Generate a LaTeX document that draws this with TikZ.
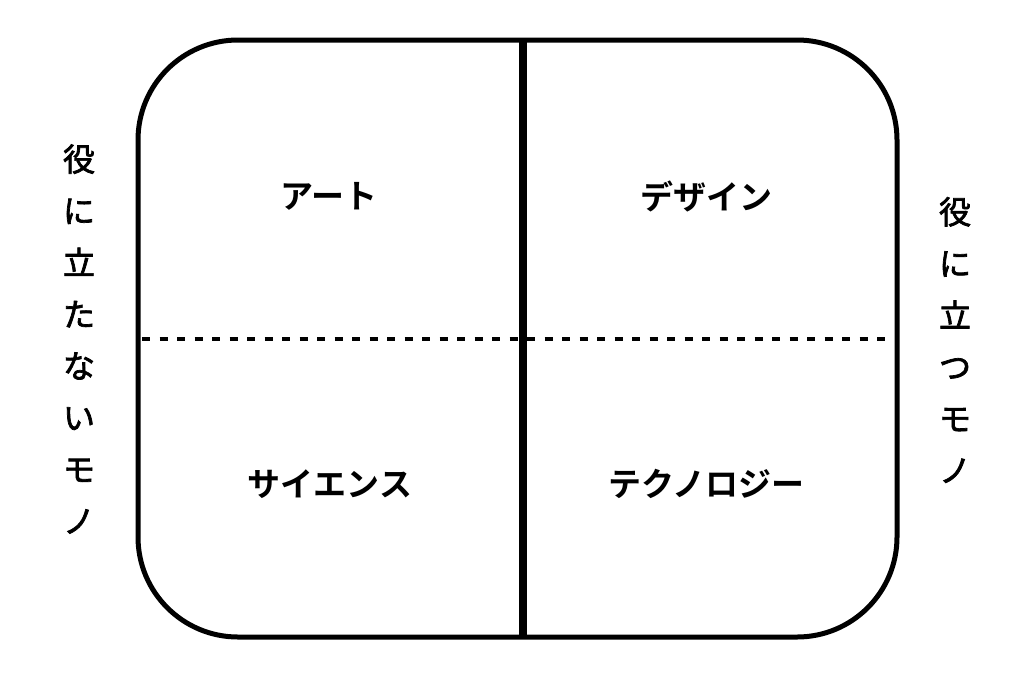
\documentclass[tikz,border=0pt]{standalone}
\usepackage{fontspec}
\newfontfamily\jp[FakeBold=2.2]{Noto Sans CJK JP}
\newfontfamily\jpb{Noto Sans CJK JP Bold}
\begin{document}
\begin{tikzpicture}[x=1pt,y=-1pt,
  quad/.style={font=\jpb\fontsize{33}{36}\selectfont, inner sep=0pt},
  side/.style={font=\jp\fontsize{32}{51.7}\selectfont, align=center, inner sep=0pt},
  frame/.style={line width=5pt, rounded corners=100pt},
  divider/.style={line width=8pt},
  split/.style={line width=3.3pt, dash pattern=on 8pt off 9.5pt}]
\useasboundingbox (0,0) rectangle (1024,678);
\draw[frame] (138,40) rectangle (897,637);
\coordinate (vt) at (523,40);
\coordinate (vb) at (523,637);
\coordinate (hl) at (142,339);
\coordinate (hr) at (894,339);
\draw[split] (hl) -- (hr);
\draw[divider] (vt) -- (vb);
\node[quad] (art) at (329,196) {アート};
\node[quad] (design) at (706,196) {デザイン};
\node[quad] (science) at (330,484) {サイエンス};
\node[quad] (tech) at (706,484) {テクノロジー};
\node[side] (left) at (79,339) {役\\に\\立\\た\\な\\い\\モ\\ノ};
\node[side] (right) at (955,340) {役\\に\\立\\つ\\モ\\ノ};
\end{tikzpicture}
\end{document}
